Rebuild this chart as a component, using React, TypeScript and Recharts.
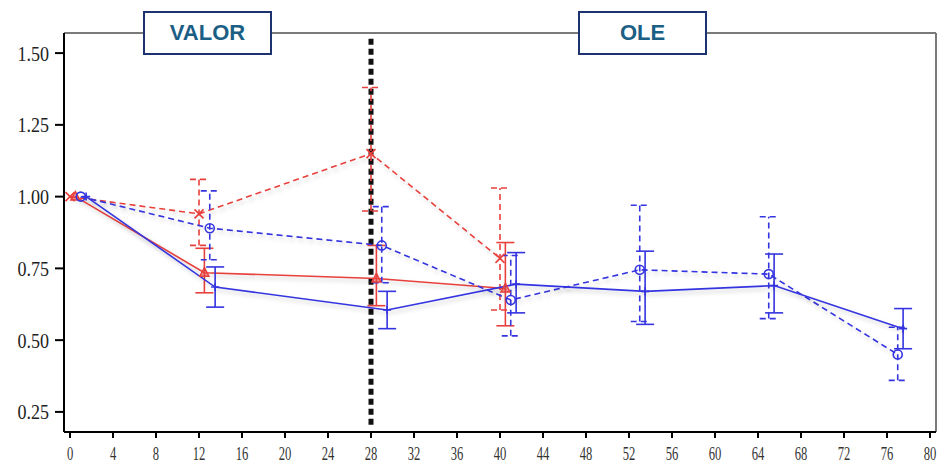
import { ComposedChart, Line, XAxis, YAxis, ErrorBar, ReferenceLine } from 'recharts';

// x ticks (weeks) and y ticks
const xTicks = [0, 4, 8, 12, 16, 20, 24, 28, 32, 36, 40, 44, 48, 52, 56, 60, 64, 68, 72, 76, 80];
const yTicks = [0.25, 0.5, 0.75, 1.0, 1.25, 1.5];

// red dashed (x markers)
const redDashX = [0, 12, 28, 40];
const redDashY = [1.0, 0.94, 1.15, 0.785];
const redDashLo = [1.0, 0.83, 0.95, 0.605];
const redDashHi = [1.0, 1.06, 1.38, 1.03];

// red solid (triangles)
const redSolidX = [0.5, 12.5, 28.5, 40.5];
const redSolidY = [1.0, 0.735, 0.715, 0.68];
const redSolidLo = [1.0, 0.665, 0.62, 0.55];
const redSolidHi = [1.0, 0.82, 0.83, 0.84];

// blue dashed (circles)
const blueDashX = [1, 13, 29, 41, 53, 65, 77];
const blueDashY = [1.0, 0.89, 0.83, 0.64, 0.745, 0.73, 0.45];
const blueDashLo = [1.0, 0.78, 0.7, 0.515, 0.565, 0.575, 0.36];
const blueDashHi = [1.0, 1.02, 0.965, 0.795, 0.97, 0.93, 0.545];

// blue solid (plus)
const blueSolidX = [1.5, 13.5, 29.5, 41.5, 53.5, 65.5, 77.5];
const blueSolidY = [1.0, 0.685, 0.605, 0.695, 0.67, 0.69, 0.54];
const blueSolidLo = [1.0, 0.615, 0.54, 0.595, 0.555, 0.595, 0.47];
const blueSolidHi = [1.0, 0.755, 0.67, 0.805, 0.81, 0.8, 0.61];

const RED = '#e8403c';
const BLUE = '#3434e0';

function build(xs: number[], ys: number[], lo: number[], hi: number[]) {
  return xs.map((x, i) => ({
    x,
    y: ys[i],
    err: lo[i] === hi[i] ? null : [ys[i] - lo[i], hi[i] - ys[i]],
  }));
}

const redDash = build(redDashX, redDashY, redDashLo, redDashHi);
const redSolid = build(redSolidX, redSolidY, redSolidLo, redSolidHi);
const blueDash = build(blueDashX, blueDashY, blueDashLo, blueDashHi);
const blueSolid = build(blueSolidX, blueSolidY, blueSolidLo, blueSolidHi);

const XDot = (p: any) => {
  const { cx, cy } = p;
  const s = 4.5;
  return (
    <path
      d={`M${cx - s},${cy - s}L${cx + s},${cy + s}M${cx - s},${cy + s}L${cx + s},${cy - s}`}
      stroke={RED}
      strokeWidth={1.6}
      fill="none"
    />
  );
};

const TriDot = (p: any) => {
  const { cx, cy } = p;
  return (
    <path
      d={`M${cx},${cy - 5}L${cx + 4.5},${cy + 3.5}L${cx - 4.5},${cy + 3.5}Z`}
      stroke={RED}
      strokeWidth={1.5}
      fill={RED}
      fillOpacity={0.5}
    />
  );
};

const CircleDot = (p: any) => {
  const { cx, cy } = p;
  return <circle cx={cx} cy={cy} r={4.5} stroke={BLUE} strokeWidth={1.6} fill="none" />;
};

const PlusDot = (p: any) => {
  const { cx, cy } = p;
  const s = 4;
  return (
    <path d={`M${cx - s},${cy}L${cx + s},${cy}M${cx},${cy - s}L${cx},${cy + s}`} stroke={BLUE} strokeWidth={1.6} />
  );
};

const XTick = (p: any) => {
  const { x, y, payload } = p;
  return (
    <g transform={`translate(${x},${y})`}>
      <text
        transform="scale(0.7,1)"
        textAnchor="middle"
        dy="0.75em"
        fontFamily="'Liberation Serif', serif"
        fontSize={18}
        fill="#333"
      >
        {payload.value}
      </text>
    </g>
  );
};

const YTick = (p: any) => {
  const { x, y, payload } = p;
  return (
    <g transform={`translate(${x},${y})`}>
      <text
        transform="scale(0.86,1)"
        textAnchor="end"
        dy="0.36em"
        fontFamily="'Liberation Serif', serif"
        fontSize={21}
        fill="#222"
      >
        {payload.value.toFixed(2)}
      </text>
    </g>
  );
};

const boxStyle: React.CSSProperties = {
  position: 'absolute',
  top: 11,
  width: 129,
  height: 44,
  boxSizing: 'border-box',
  border: '2.5px solid #1c3370',
  background: '#fff',
  color: '#1b5f85',
  fontFamily: "'Liberation Sans', Arial, sans-serif",
  fontWeight: 'bold',
  fontSize: 22,
  display: 'flex',
  alignItems: 'center',
  justifyContent: 'center',
};

export default function App() {
  return (
    <div style={{ position: 'relative', width: 938, height: 462 }}>
      <style>{`body{margin:0} .shadowed{filter:drop-shadow(2px 3px 2px rgba(0,0,0,0.2));}`}</style>
      <ComposedChart width={938} height={462} margin={{ top: 33, right: 2, bottom: 0, left: 0 }}>
        <XAxis
          type="number"
          dataKey="x"
          domain={[-0.56, 80.56]}
          ticks={xTicks}
          interval={0}
          stroke="#000"
          strokeWidth={2}
          tickSize={6}
          tickMargin={8}
          height={30}
          tick={<XTick />}
          allowDataOverflow
        />
        <YAxis
          type="number"
          domain={[0.18, 1.57]}
          ticks={yTicks}
          interval={0}
          width={64}
          stroke="#000"
          strokeWidth={2}
          tickSize={9}
          tickMargin={6}
          tick={<YTick />}
          allowDataOverflow
        />
        <ReferenceLine y={1.57} stroke="#7a7a7a" strokeWidth={2} ifOverflow="visible" />
        <ReferenceLine x={80.56} stroke="#7a7a7a" strokeWidth={2} ifOverflow="visible" />
        <ReferenceLine
          segment={[{ x: 28, y: 0.205 }, { x: 28, y: 1.563 }]}
          stroke="#111"
          strokeWidth={5}
          strokeDasharray="6 4"
          ifOverflow="visible"
        />
        <Line
          className="shadowed"
          data={redDash}
          dataKey="y"
          stroke={RED}
          strokeWidth={1.6}
          strokeDasharray="6 4"
          dot={(p: any) => <XDot key={`rd-${p.index}`} {...p} />}
          activeDot={false}
          isAnimationActive={false}
        >
          <ErrorBar dataKey="err" width={9} stroke={RED} strokeWidth={1.6} strokeDasharray="6 4" isAnimationActive={false} />
        </Line>
        <Line
          className="shadowed"
          data={redSolid}
          dataKey="y"
          stroke={RED}
          strokeWidth={1.6}
          dot={(p: any) => <TriDot key={`rs-${p.index}`} {...p} />}
          activeDot={false}
          isAnimationActive={false}
        >
          <ErrorBar dataKey="err" width={9} stroke={RED} strokeWidth={1.6} isAnimationActive={false} />
        </Line>
        <Line
          className="shadowed"
          data={blueDash}
          dataKey="y"
          stroke={BLUE}
          strokeWidth={1.6}
          strokeDasharray="6 4"
          dot={(p: any) => <CircleDot key={`bd-${p.index}`} {...p} />}
          activeDot={false}
          isAnimationActive={false}
        >
          <ErrorBar dataKey="err" width={9} stroke={BLUE} strokeWidth={1.6} strokeDasharray="6 4" isAnimationActive={false} />
        </Line>
        <Line
          className="shadowed"
          data={blueSolid}
          dataKey="y"
          stroke={BLUE}
          strokeWidth={1.6}
          dot={(p: any) => <PlusDot key={`bs-${p.index}`} {...p} />}
          activeDot={false}
          isAnimationActive={false}
        >
          <ErrorBar dataKey="err" width={9} stroke={BLUE} strokeWidth={1.6} isAnimationActive={false} />
        </Line>
      </ComposedChart>
      <div style={{ ...boxStyle, left: 143 }}>VALOR</div>
      <div style={{ ...boxStyle, left: 578 }}>OLE</div>
    </div>
  );
}
